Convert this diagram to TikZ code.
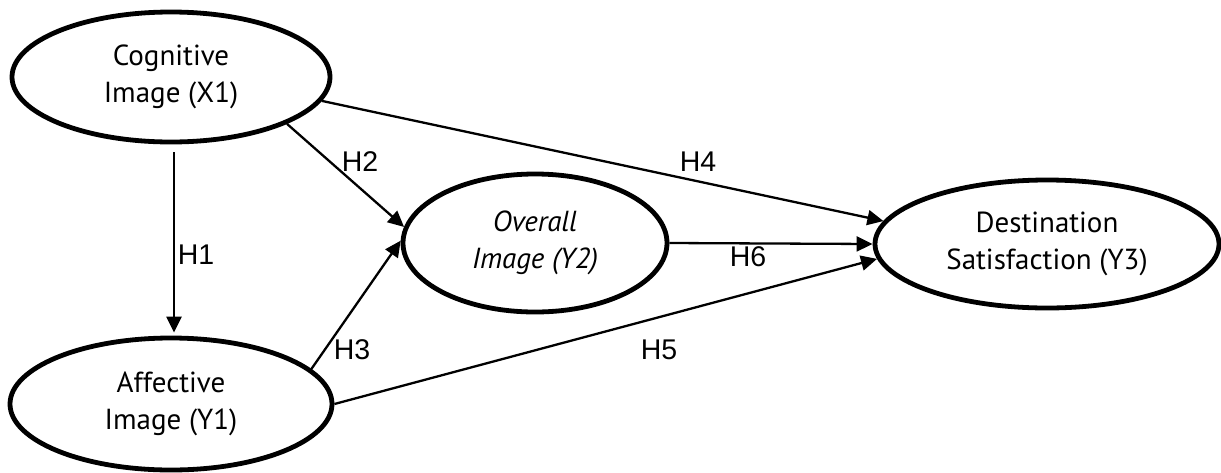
\documentclass[tikz,border=0pt]{standalone}
\usepackage{fontspec}
\setmainfont{PT Sans}
\newfontfamily\labelfont{Liberation Sans}
\usetikzlibrary{shapes.geometric,arrows.meta}
\begin{document}
\begin{tikzpicture}[x=1pt,y=-1pt,
  construct/.style={ellipse,draw,line width=4.8pt,inner sep=0pt,align=center,
    font=\fontsize{29}{37}\selectfont},
  path/.style={line width=2.3pt,-{Triangle[length=16pt,width=15pt]}},
  hlabel/.style={font=\labelfont\fontsize{28.5}{32}\selectfont,inner sep=0pt}]
\useasboundingbox (0,0) rectangle (1221,472);
\node[construct,minimum width=318pt,minimum height=130pt] (cog) at (171,77) {Cognitive\\Image (X1)};
\node[construct,minimum width=322pt,minimum height=132pt] (aff) at (171,404) {Affective\\Image (Y1)};
\node[construct,minimum width=264pt,minimum height=138pt,font=\itshape\fontsize{29}{37}\selectfont] (ovr) at (535,243) {Overall\\Image (Y2)};
\node[construct,minimum width=344pt,minimum height=128pt] (dst) at (1047,244) {Destination\\Satisfaction (Y3)};
\draw[path] ([xshift=3pt,yshift=-8pt]cog.south) -- ([xshift=3pt,yshift=3pt]aff.north);
\draw[path] (cog.-22.5) -- (ovr.173.5);
\draw[path] (aff.14.5) -- (ovr.179);
\draw[path] (cog.-9.8) -- (dst.172.6);
\draw[path] (ovr.0.5) -- (dst.180);
\draw[path] (aff.-0.4) -- (dst.-175.3);
\node[hlabel] (h1) at (196,255) {H1};
\node[hlabel] (h2) at (360,162) {H2};
\node[hlabel] (h3) at (352,350) {H3};
\node[hlabel] (h4) at (698,162) {H4};
\node[hlabel] (h5) at (659,350) {H5};
\node[hlabel] (h6) at (748,257) {H6};
\end{tikzpicture}
\end{document}
